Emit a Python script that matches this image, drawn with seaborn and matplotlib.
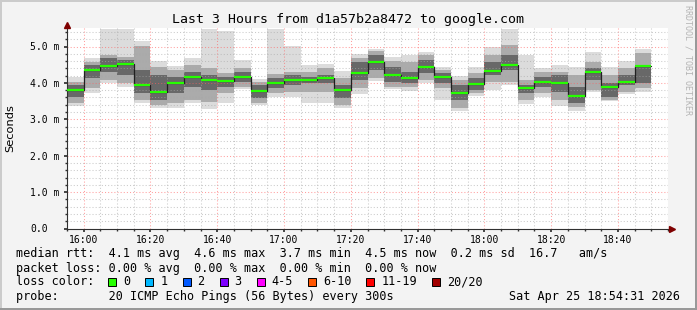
import numpy as np
import pandas as pd
import matplotlib
matplotlib.use("Agg")
import matplotlib.pyplot as plt
import matplotlib.transforms as mtransforms
from matplotlib.patches import Rectangle
import seaborn as sns

# ---------------- data ----------------
title = "Last 3 Hours from d1a57b2a8472 to google.com"
bar_times = pd.date_range("2026-04-25 15:55", periods=35, freq="5min")
tick_labels = ["16:00", "16:20", "16:40", "17:00", "17:20", "17:40", "18:00", "18:20", "18:40"]
y_tick_values = [0, 1, 2, 3, 4, 5]
y_tick_labels = ["0.0", "1.0 m", "2.0 m", "3.0 m", "4.0 m", "5.0 m"]

median_ms = [3.80, 4.35, 4.46, 4.53, 3.94, 3.75, 4.00, 4.16, 4.08, 4.06, 4.16, 3.79, 4.00, 4.08,
             4.08, 4.13, 3.80, 4.28, 4.57, 4.23, 4.13, 4.44, 4.16, 3.72, 3.96, 4.33, 4.50, 3.86,
             4.02, 4.01, 3.64, 4.31, 3.89, 4.03, 4.46]
smoke_max = [4.17, 4.68, 5.48, 5.48, 5.16, 4.60, 4.47, 4.69, 5.48, 5.43, 4.63, 4.10, 5.48, 5.02,
             4.49, 4.53, 4.32, 4.79, 4.93, 4.72, 4.78, 4.86, 4.44, 4.20, 4.45, 4.99, 5.48, 4.78,
             4.42, 4.48, 4.44, 4.84, 4.44, 4.60, 4.93]
smoke_min = [3.37, 3.71, 3.99, 3.88, 3.44, 3.31, 3.31, 3.45, 3.28, 3.45, 3.84, 3.39, 3.60, 3.61,
             3.46, 3.46, 3.31, 3.70, 4.05, 3.83, 3.79, 3.99, 3.54, 3.23, 3.65, 3.80, 3.95, 3.42,
             3.61, 3.37, 3.24, 3.76, 3.50, 3.69, 3.76]
body_hi = [4.02, 4.58, 4.77, 4.72, 5.02, 4.45, 4.35, 4.49, 4.40, 4.26, 4.42, 4.02, 4.24, 4.31,
           4.31, 4.40, 4.13, 4.68, 4.88, 4.60, 4.58, 4.77, 4.35, 4.08, 4.26, 4.78, 5.04, 4.08,
           4.31, 4.31, 4.22, 4.58, 4.22, 4.40, 4.81]
body_lo = [3.46, 3.85, 4.08, 3.99, 3.52, 3.39, 3.44, 3.53, 3.48, 3.71, 3.90, 3.44, 3.71, 3.76,
           3.76, 3.76, 3.39, 3.85, 4.13, 3.90, 3.90, 4.08, 3.85, 3.30, 3.71, 4.03, 4.03, 3.53,
           3.71, 3.53, 3.35, 3.80, 3.53, 3.76, 3.85]
core_hi = [3.94, 4.49, 4.68, 4.63, 4.35, 4.22, 4.17, 4.31, 4.22, 4.17, 4.31, 3.94, 4.13, 4.22,
           4.17, 4.22, 3.94, 4.57, 4.77, 4.45, 4.31, 4.63, 4.26, 3.94, 4.13, 4.58, 4.77, 3.94,
           4.17, 4.22, 3.90, 4.40, 3.99, 4.22, 4.49]
core_lo = [3.62, 4.13, 4.31, 4.22, 3.71, 3.53, 3.71, 3.90, 3.80, 3.90, 4.03, 3.58, 3.85, 3.94,
           3.99, 3.99, 3.58, 4.08, 4.35, 4.03, 3.99, 4.26, 3.99, 3.53, 3.80, 4.22, 4.35, 3.71,
           3.90, 3.76, 3.44, 4.08, 3.62, 3.94, 3.99]

legend_rows = [
    "median rtt:  4.1 ms avg  4.6 ms max  3.7 ms min  4.5 ms now  0.2 ms sd  16.7   am/s",
    "packet loss: 0.00 % avg  0.00 % max  0.00 % min  0.00 % now",
    "loss color:",
    "probe:       20 ICMP Echo Pings (56 Bytes) every 300s",
]
loss_labels = ["0", "1", "2", "3", "4-5", "6-10", "11-19", "20/20"]
loss_colors = ["#26ff00", "#00b8ff", "#0059ff", "#7e00ff", "#ff00ff", "#ff5500", "#ff0000", "#a10000"]
timestamp = "Sat Apr 25 18:54:31 2026"
watermark = "RRDTOOL / TOBI OETIKER"

# ---------------- drawing ----------------
sns.set_theme(style="white")
plt.rcParams["font.family"] = ["DejaVu Sans Mono", "DejaVu Sans"]

W, H = 697, 310
fig = plt.figure(figsize=(W / 100, H / 100), dpi=100)
fig.patch.set_facecolor("#f3f3f3")

def fx(px):
    return px / W

def fy(py):
    return 1 - py / H

ax_left, ax_right, ax_bottom, ax_top = 67, 668, 228.5, 28.3
ax = fig.add_axes([fx(ax_left), fy(ax_bottom), fx(ax_right - ax_left), (ax_bottom - ax_top) / H])
ax.set_facecolor("white")

t0 = bar_times[0]
starts = np.array([(t - t0).total_seconds() / 60 for t in bar_times])
width = 5.0

df = pd.DataFrame({"start": starts, "median": median_ms, "smin": smoke_min, "smax": smoke_max,
                   "blo": body_lo, "bhi": body_hi, "clo": core_lo, "chi": core_hi})

for lo, hi, col in [("smin", "smax", "#dcdcdc"), ("blo", "bhi", "#ababab"), ("clo", "chi", "#686868")]:
    ax.bar(df["start"], df[hi] - df[lo], bottom=df[lo], width=width, align="edge",
           color=col, linewidth=0, antialiased=False, zorder=1)

# median connector (step line) via seaborn
step_x = list(df["start"]) + [df["start"].iloc[-1] + width]
step_y = list(df["median"]) + [df["median"].iloc[-1]]
sns.lineplot(x=step_x, y=step_y, drawstyle="steps-post", color="#202020", lw=0.9,
             ax=ax, zorder=2, estimator=None, sort=False)
ax.hlines(df["median"], df["start"], df["start"] + width, color=loss_colors[0], lw=1.6, zorder=3)

# axes / scales
ax.set_xlim(0, 180)
ax.set_ylim(0, 5.5)
tick_pos = [(pd.Timestamp("2026-04-25 " + s) - t0).total_seconds() / 60 for s in tick_labels]
ax.set_xticks(tick_pos)
ax.set_xticklabels(tick_labels, fontsize=7)
ax.set_xticks(np.arange(0, 181, 5), minor=True)
ax.set_yticks(y_tick_values)
ax.set_yticklabels(y_tick_labels, fontsize=7, ha="left")
ax.set_yticks(np.arange(0, 5.5, 0.2), minor=True)

ax.set_axisbelow("line")
ax.grid(which="minor", color="#a8a8a8", alpha=0.6, linestyle=(0, (1, 2)), lw=0.75)
ax.grid(which="major", color="#ff6060", alpha=0.6, linestyle=(0, (1, 2)), lw=0.75)

axis_col = "#303030"
for s in ["top", "right"]:
    ax.spines[s].set_visible(False)
for s in ["left", "bottom"]:
    ax.spines[s].set_color(axis_col)
    ax.spines[s].set_linewidth(0.8)
ax.spines["bottom"].set_bounds(0, 180.5)

ax.tick_params(axis="x", which="major", direction="out", length=2.5, color=axis_col, pad=2.0,
               labelcolor="black", bottom=True)
ax.tick_params(axis="x", which="minor", direction="out", length=1.5, color=axis_col, bottom=True)
ticklen_pt = 2.0
ax.tick_params(axis="y", which="major", direction="out", length=ticklen_pt, color=axis_col,
               pad=(ax_left - 30) * 0.72 - ticklen_pt, labelcolor="black", left=True)
ax.tick_params(axis="y", which="minor", direction="out", length=1.5, color=axis_col, left=True)

# arrows
arrow_col = "#7f0000"
tr_up = mtransforms.offset_copy(ax.transAxes, fig=fig, x=0, y=3.5, units="dots")
ax.plot([0], [1], marker="^", ms=4.5, color=arrow_col, transform=tr_up, clip_on=False, zorder=5)
tr_right = mtransforms.offset_copy(ax.transAxes, fig=fig, x=3.5, y=0, units="dots")
ax.plot([1], [0], marker=">", ms=4.5, color=arrow_col, transform=tr_right, clip_on=False, zorder=5)

# title, y label, watermark
fig.text(fx(348), fy(19), title, ha="center", va="center", fontsize=9.5, color="black")
fig.text(fx(10), fy(128), "Seconds", rotation=90, ha="center", va="center", fontsize=8.2,
         family="DejaVu Sans", color="black")
fig.text(fx(688), fy(60), watermark, rotation=270, ha="center", va="center", fontsize=6,
         color="#b4b4b4")

# legend rows
row_y = [254, 268.3, 281.7, 296.7]
for txt, yy in zip(legend_rows, row_y):
    fig.text(fx(16), fy(yy), txt, ha="left", va="center", fontsize=8.5, color="black")
fig.text(fx(680), fy(row_y[3]), timestamp, ha="right", va="center", fontsize=8.5, color="black")

char_w = 7.1
cursor = 16 + 13 * char_w
for lab, col in zip(loss_labels, loss_colors):
    fig.patches.append(Rectangle((fx(cursor), fy(285.7)), fx(8), 8 / H, transform=fig.transFigure,
                                 facecolor=col, edgecolor="black", lw=0.7))
    fig.text(fx(cursor + 15), fy(row_y[2]), lab, ha="left", va="center", fontsize=8.5, color="black")
    cursor += char_w * len(lab) + 30

# border (shade)
fig.patches.append(Rectangle((0, fy(2)), 1, 2 / H, transform=fig.transFigure, facecolor="#cbcbcb", lw=0))
fig.patches.append(Rectangle((0, 0), fx(2), 1, transform=fig.transFigure, facecolor="#cbcbcb", lw=0))
fig.patches.append(Rectangle((fx(W - 2), 0), fx(2), 1, transform=fig.transFigure, facecolor="#999999", lw=0))
fig.patches.append(Rectangle((0, 0), 1, 2 / H, transform=fig.transFigure, facecolor="#999999", lw=0))

fig.savefig("out.png", dpi=100, facecolor=fig.get_facecolor())
